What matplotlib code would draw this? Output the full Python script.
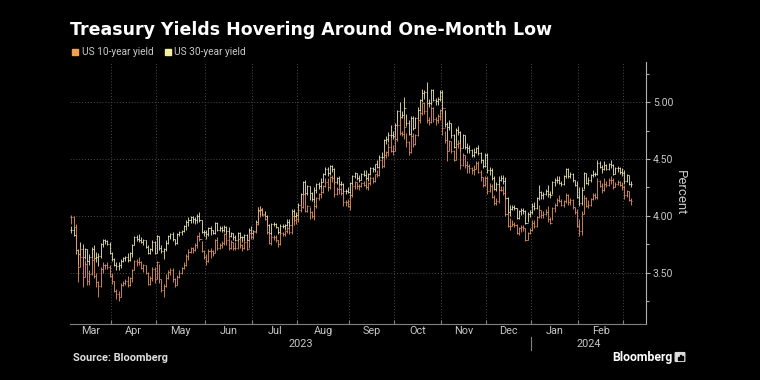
import numpy as np
import pandas as pd
from matplotlib import pyplot as plt
from matplotlib.patches import Rectangle, FancyBboxPatch

### trading days shown (US bond market calendar)
start_day = '2023-03-08'
end_day = '2024-03-06'
holidays = ['2023-05-29', '2023-06-19', '2023-07-04', '2023-09-04', '2023-10-09',
            '2023-11-10', '2023-11-23', '2023-12-25', '2024-01-01', '2024-01-15',
            '2024-02-19']

series_names = ['US 10-year yield', 'US 30-year yield']

### US 10-year yield: close, high, low (one line per month)
close10 = [3.99, 3.90, 3.70, 3.55, 3.64, 3.46, 3.58, 3.43, 3.49, 3.61, 3.47, 3.42, 3.38, 3.53, 3.57, 3.57, 3.55, 3.47,
           3.43, 3.34, 3.31, 3.29, 3.39, 3.41, 3.43, 3.39, 3.45, 3.52, 3.60, 3.59, 3.59, 3.54, 3.57, 3.50, 3.40, 3.45, 3.53, 3.44,
           3.59, 3.44, 3.35, 3.38, 3.45, 3.51, 3.52, 3.44, 3.39, 3.46, 3.50, 3.54, 3.57, 3.65, 3.68, 3.72, 3.70, 3.74, 3.82, 3.80, 3.69, 3.64,
           3.60, 3.69, 3.69, 3.67, 3.79, 3.72, 3.74, 3.76, 3.84, 3.79, 3.72, 3.77, 3.72, 3.72, 3.80, 3.74, 3.72, 3.77, 3.71, 3.85, 3.81,
           3.86, 3.93, 4.04, 4.06, 4.01, 3.97, 3.86, 3.76, 3.81, 3.81, 3.79, 3.75, 3.85, 3.84, 3.87, 3.89, 3.86, 4.00, 3.96, 3.97,
           4.05, 4.08, 4.19, 4.04, 4.09, 4.03, 4.00, 4.09, 4.16, 4.19, 4.21, 4.26, 4.30, 4.25, 4.34, 4.33, 4.19, 4.24, 4.24, 4.20, 4.12, 4.12, 4.09,
           4.18, 4.26, 4.30, 4.26, 4.26, 4.29, 4.27, 4.25, 4.29, 4.33, 4.31, 4.37, 4.36, 4.49, 4.44, 4.54, 4.56, 4.61, 4.57, 4.57,
           4.68, 4.80, 4.73, 4.72, 4.78, 4.65, 4.56, 4.70, 4.63, 4.71, 4.84, 4.91, 4.99, 4.92, 4.84, 4.83, 4.95, 4.85, 4.84, 4.88, 4.93,
           4.77, 4.67, 4.57, 4.66, 4.57, 4.49, 4.63, 4.64, 4.45, 4.54, 4.45, 4.44, 4.42, 4.40, 4.41, 4.47, 4.39, 4.34, 4.27, 4.33,
           4.22, 4.26, 4.17, 4.11, 4.13, 4.23, 4.23, 4.20, 4.02, 3.91, 3.91, 3.93, 3.92, 3.85, 3.89, 3.90, 3.89, 3.79, 3.85, 3.88,
           3.94, 3.91, 3.99, 4.05, 4.01, 4.02, 4.03, 3.97, 3.94, 4.07, 4.10, 4.14, 4.13, 4.10, 4.13, 4.18, 4.12, 4.14, 4.08, 4.03, 3.91,
           3.87, 4.02, 4.16, 4.09, 4.10, 4.15, 4.18, 4.17, 4.31, 4.26, 4.23, 4.28, 4.27, 4.32, 4.32, 4.25, 4.28, 4.30, 4.27, 4.25,
           4.18, 4.22, 4.14, 4.13]
high10 = [4.01, 4.00, 3.93, 3.67, 3.73, 3.67, 3.61, 3.59, 3.52, 3.64, 3.64, 3.50, 3.43, 3.55, 3.59, 3.58, 3.59, 3.57,
          3.50, 3.43, 3.36, 3.34, 3.41, 3.43, 3.44, 3.47, 3.46, 3.53, 3.61, 3.62, 3.64, 3.60, 3.58, 3.57, 3.51, 3.47, 3.55, 3.55,
          3.60, 3.58, 3.44, 3.40, 3.49, 3.52, 3.54, 3.54, 3.45, 3.48, 3.52, 3.55, 3.59, 3.66, 3.71, 3.73, 3.73, 3.76, 3.83, 3.86, 3.78, 3.70,
          3.66, 3.71, 3.72, 3.70, 3.80, 3.81, 3.76, 3.78, 3.85, 3.84, 3.84, 3.79, 3.77, 3.77, 3.81, 3.80, 3.75, 3.78, 3.78, 3.86, 3.88,
          3.87, 3.95, 4.08, 4.09, 4.07, 4.02, 3.97, 3.87, 3.83, 3.83, 3.83, 3.79, 3.86, 3.86, 3.87, 3.91, 3.91, 4.02, 4.02, 3.98,
          4.06, 4.12, 4.20, 4.20, 4.10, 4.08, 4.04, 4.11, 4.17, 4.20, 4.24, 4.27, 4.33, 4.33, 4.35, 4.36, 4.33, 4.25, 4.28, 4.25, 4.21, 4.14, 4.15,
          4.20, 4.27, 4.31, 4.30, 4.28, 4.30, 4.31, 4.32, 4.30, 4.35, 4.34, 4.37, 4.40, 4.50, 4.50, 4.56, 4.57, 4.64, 4.69, 4.62,
          4.70, 4.81, 4.88, 4.75, 4.89, 4.73, 4.66, 4.72, 4.73, 4.72, 4.86, 4.92, 4.99, 5.00, 5.00, 4.87, 4.97, 4.96, 4.87, 4.90, 4.94,
          4.93, 4.75, 4.68, 4.67, 4.66, 4.58, 4.64, 4.67, 4.64, 4.55, 4.54, 4.48, 4.46, 4.43, 4.45, 4.48, 4.48, 4.40, 4.34, 4.35,
          4.35, 4.29, 4.28, 4.18, 4.16, 4.25, 4.26, 4.26, 4.22, 4.03, 3.98, 3.96, 3.95, 3.93, 3.90, 3.92, 3.92, 3.89, 3.86, 3.89,
          3.96, 3.96, 4.00, 4.10, 4.05, 4.04, 4.06, 4.09, 3.99, 4.08, 4.11, 4.16, 4.18, 4.15, 4.14, 4.20, 4.19, 4.16, 4.15, 4.08, 4.06,
          3.97, 4.04, 4.18, 4.17, 4.14, 4.16, 4.20, 4.20, 4.33, 4.32, 4.29, 4.33, 4.31, 4.33, 4.35, 4.33, 4.30, 4.32, 4.31, 4.30,
          4.27, 4.23, 4.22, 4.16]
low10 = [3.93, 3.89, 3.68, 3.42, 3.55, 3.37, 3.46, 3.39, 3.39, 3.48, 3.45, 3.37, 3.29, 3.37, 3.50, 3.53, 3.53, 3.46,
         3.40, 3.33, 3.27, 3.25, 3.29, 3.38, 3.39, 3.37, 3.38, 3.42, 3.52, 3.56, 3.57, 3.53, 3.51, 3.49, 3.39, 3.39, 3.43, 3.41,
         3.44, 3.41, 3.33, 3.29, 3.37, 3.44, 3.48, 3.42, 3.37, 3.39, 3.45, 3.49, 3.53, 3.56, 3.61, 3.67, 3.67, 3.69, 3.72, 3.78, 3.68, 3.62,
         3.57, 3.59, 3.63, 3.65, 3.67, 3.70, 3.71, 3.72, 3.74, 3.74, 3.70, 3.71, 3.70, 3.70, 3.71, 3.72, 3.69, 3.71, 3.70, 3.72, 3.80,
         3.80, 3.85, 3.92, 3.99, 4.00, 3.96, 3.84, 3.75, 3.74, 3.79, 3.77, 3.73, 3.74, 3.82, 3.82, 3.85, 3.84, 3.84, 3.92, 3.93,
         3.95, 4.03, 4.07, 4.03, 4.03, 3.97, 3.98, 3.96, 4.07, 4.14, 4.16, 4.20, 4.25, 4.22, 4.24, 4.30, 4.17, 4.18, 4.19, 4.18, 4.09, 4.09, 4.08,
         4.05, 4.17, 4.24, 4.24, 4.23, 4.25, 4.26, 4.24, 4.23, 4.27, 4.29, 4.30, 4.34, 4.35, 4.42, 4.43, 4.51, 4.53, 4.56, 4.54,
         4.57, 4.66, 4.71, 4.70, 4.68, 4.61, 4.54, 4.55, 4.61, 4.62, 4.70, 4.82, 4.89, 4.90, 4.82, 4.80, 4.82, 4.83, 4.80, 4.82, 4.84,
         4.71, 4.64, 4.48, 4.57, 4.55, 4.48, 4.49, 4.60, 4.41, 4.44, 4.42, 4.38, 4.38, 4.37, 4.36, 4.41, 4.38, 4.31, 4.25, 4.26,
         4.19, 4.21, 4.16, 4.10, 4.10, 4.11, 4.22, 4.18, 4.00, 3.90, 3.88, 3.91, 3.90, 3.84, 3.83, 3.86, 3.87, 3.78, 3.79, 3.84,
         3.87, 3.89, 3.90, 3.98, 3.98, 3.98, 4.01, 3.95, 3.93, 3.96, 4.03, 4.09, 4.12, 4.09, 4.08, 4.11, 4.10, 4.10, 4.06, 4.02, 3.90,
         3.82, 3.83, 4.02, 4.08, 4.07, 4.09, 4.14, 4.15, 4.15, 4.25, 4.20, 4.22, 4.25, 4.26, 4.28, 4.24, 4.25, 4.27, 4.26, 4.23,
         4.15, 4.17, 4.13, 4.10]

### US 30-year yield: close, high, low
close30 = [3.88, 3.83, 3.70, 3.66, 3.71, 3.64, 3.71, 3.60, 3.64, 3.71, 3.63, 3.64, 3.65, 3.75, 3.79, 3.78, 3.75, 3.67,
           3.62, 3.57, 3.56, 3.57, 3.60, 3.63, 3.64, 3.61, 3.67, 3.74, 3.81, 3.80, 3.79, 3.77, 3.79, 3.73, 3.67, 3.71, 3.77, 3.67,
           3.82, 3.72, 3.69, 3.71, 3.76, 3.82, 3.84, 3.80, 3.76, 3.84, 3.86, 3.87, 3.91, 3.95, 3.96, 3.99, 3.97, 3.96, 4.00, 3.96, 3.86, 3.86,
           3.84, 3.89, 3.88, 3.85, 3.94, 3.88, 3.89, 3.88, 3.90, 3.87, 3.82, 3.85, 3.81, 3.79, 3.85, 3.81, 3.81, 3.83, 3.79, 3.88, 3.85,
           3.87, 3.95, 4.05, 4.05, 4.02, 4.00, 3.92, 3.85, 3.93, 3.93, 3.90, 3.86, 3.91, 3.91, 3.92, 3.95, 3.92, 4.04, 4.00, 4.01,
           4.10, 4.19, 4.30, 4.20, 4.26, 4.20, 4.15, 4.23, 4.28, 4.26, 4.30, 4.37, 4.41, 4.38, 4.44, 4.41, 4.30, 4.33, 4.28, 4.28, 4.22, 4.22, 4.21,
           4.29, 4.35, 4.38, 4.33, 4.32, 4.37, 4.36, 4.33, 4.37, 4.42, 4.41, 4.46, 4.43, 4.52, 4.52, 4.67, 4.68, 4.71, 4.71, 4.70,
           4.80, 4.92, 4.87, 4.89, 4.95, 4.82, 4.72, 4.86, 4.77, 4.86, 4.93, 5.02, 5.08, 5.09, 4.99, 4.99, 5.11, 5.02, 5.01, 5.03, 5.09,
           4.95, 4.81, 4.78, 4.82, 4.71, 4.61, 4.76, 4.74, 4.60, 4.71, 4.61, 4.60, 4.58, 4.54, 4.56, 4.60, 4.55, 4.49, 4.44, 4.54,
           4.40, 4.40, 4.33, 4.24, 4.28, 4.32, 4.33, 4.31, 4.16, 4.03, 4.06, 4.08, 4.07, 3.98, 4.04, 4.05, 4.04, 3.94, 4.02, 4.03,
           4.09, 4.07, 4.16, 4.21, 4.18, 4.19, 4.22, 4.19, 4.18, 4.30, 4.32, 4.32, 4.29, 4.28, 4.35, 4.41, 4.35, 4.37, 4.32, 4.27, 4.17,
           4.11, 4.23, 4.38, 4.29, 4.32, 4.36, 4.37, 4.37, 4.47, 4.43, 4.41, 4.45, 4.41, 4.46, 4.45, 4.37, 4.42, 4.42, 4.39, 4.38,
           4.31, 4.36, 4.28, 4.28]
high30 = [3.91, 3.90, 3.84, 3.71, 3.77, 3.75, 3.72, 3.71, 3.66, 3.73, 3.74, 3.68, 3.67, 3.76, 3.80, 3.80, 3.79, 3.77,
          3.68, 3.63, 3.59, 3.59, 3.62, 3.64, 3.65, 3.67, 3.68, 3.75, 3.82, 3.83, 3.84, 3.81, 3.80, 3.79, 3.74, 3.72, 3.79, 3.78,
          3.83, 3.82, 3.74, 3.72, 3.79, 3.83, 3.85, 3.86, 3.80, 3.85, 3.87, 3.88, 3.92, 3.96, 3.99, 4.00, 4.00, 3.99, 4.02, 4.03, 3.96, 3.88,
          3.88, 3.90, 3.91, 3.88, 3.95, 3.95, 3.91, 3.91, 3.92, 3.91, 3.90, 3.86, 3.85, 3.83, 3.86, 3.86, 3.82, 3.84, 3.84, 3.89, 3.91,
          3.88, 3.96, 4.08, 4.09, 4.07, 4.04, 4.01, 3.93, 3.94, 3.95, 3.94, 3.90, 3.93, 3.93, 3.93, 3.97, 3.97, 4.06, 4.06, 4.03,
          4.11, 4.20, 4.31, 4.32, 4.27, 4.26, 4.21, 4.25, 4.29, 4.30, 4.33, 4.38, 4.43, 4.43, 4.45, 4.45, 4.42, 4.34, 4.35, 4.31, 4.29, 4.24, 4.25,
          4.30, 4.36, 4.39, 4.38, 4.36, 4.38, 4.40, 4.40, 4.38, 4.43, 4.43, 4.46, 4.49, 4.54, 4.56, 4.68, 4.70, 4.74, 4.80, 4.75,
          4.82, 4.93, 5.00, 4.92, 5.05, 4.90, 4.84, 4.88, 4.88, 4.87, 4.96, 5.03, 5.12, 5.11, 5.18, 5.03, 5.12, 5.12, 5.04, 5.05, 5.11,
          5.11, 4.93, 4.83, 4.84, 4.82, 4.72, 4.77, 4.79, 4.75, 4.72, 4.71, 4.64, 4.62, 4.59, 4.60, 4.61, 4.62, 4.56, 4.50, 4.55,
          4.55, 4.43, 4.42, 4.35, 4.30, 4.35, 4.36, 4.36, 4.34, 4.17, 4.10, 4.10, 4.10, 4.07, 4.05, 4.07, 4.07, 4.05, 4.03, 4.05,
          4.11, 4.12, 4.17, 4.27, 4.22, 4.21, 4.24, 4.27, 4.22, 4.31, 4.33, 4.35, 4.35, 4.31, 4.36, 4.42, 4.42, 4.39, 4.38, 4.32, 4.31,
          4.25, 4.25, 4.39, 4.38, 4.34, 4.37, 4.40, 4.39, 4.49, 4.48, 4.45, 4.48, 4.46, 4.47, 4.49, 4.46, 4.43, 4.44, 4.43, 4.42,
          4.40, 4.37, 4.36, 4.31]
low30 = [3.85, 3.82, 3.66, 3.57, 3.65, 3.56, 3.62, 3.59, 3.57, 3.63, 3.62, 3.59, 3.56, 3.63, 3.73, 3.75, 3.74, 3.66,
         3.60, 3.56, 3.52, 3.52, 3.54, 3.59, 3.60, 3.59, 3.60, 3.64, 3.74, 3.78, 3.77, 3.76, 3.74, 3.72, 3.66, 3.66, 3.69, 3.66,
         3.67, 3.70, 3.67, 3.62, 3.69, 3.75, 3.80, 3.78, 3.74, 3.75, 3.82, 3.83, 3.86, 3.88, 3.91, 3.94, 3.94, 3.93, 3.94, 3.95, 3.85, 3.82,
         3.80, 3.82, 3.83, 3.84, 3.84, 3.87, 3.87, 3.86, 3.86, 3.84, 3.81, 3.81, 3.79, 3.78, 3.78, 3.80, 3.77, 3.78, 3.78, 3.79, 3.84,
         3.83, 3.87, 3.94, 4.01, 4.01, 3.99, 3.91, 3.84, 3.83, 3.91, 3.89, 3.84, 3.84, 3.89, 3.88, 3.91, 3.90, 3.91, 3.97, 3.98,
         4.00, 4.09, 4.18, 4.19, 4.18, 4.14, 4.13, 4.11, 4.20, 4.24, 4.24, 4.30, 4.36, 4.35, 4.36, 4.39, 4.28, 4.28, 4.26, 4.26, 4.19, 4.19, 4.20,
         4.16, 4.27, 4.33, 4.32, 4.30, 4.32, 4.35, 4.32, 4.31, 4.36, 4.39, 4.39, 4.42, 4.42, 4.50, 4.52, 4.63, 4.65, 4.69, 4.68,
         4.70, 4.79, 4.85, 4.86, 4.85, 4.79, 4.71, 4.71, 4.76, 4.77, 4.85, 4.92, 5.00, 5.03, 4.98, 4.96, 4.98, 5.01, 4.98, 4.98, 5.01,
         4.91, 4.78, 4.66, 4.76, 4.69, 4.60, 4.60, 4.71, 4.57, 4.60, 4.59, 4.55, 4.55, 4.52, 4.52, 4.55, 4.54, 4.47, 4.42, 4.43,
         4.38, 4.36, 4.32, 4.23, 4.22, 4.23, 4.31, 4.28, 4.15, 4.02, 4.00, 4.05, 4.05, 3.97, 3.97, 4.01, 4.02, 3.93, 3.95, 3.99,
         4.02, 4.05, 4.06, 4.14, 4.15, 4.15, 4.18, 4.17, 4.16, 4.19, 4.26, 4.29, 4.28, 4.26, 4.27, 4.33, 4.33, 4.33, 4.30, 4.26, 4.16,
         4.09, 4.10, 4.24, 4.28, 4.27, 4.30, 4.34, 4.35, 4.36, 4.42, 4.38, 4.40, 4.40, 4.40, 4.42, 4.36, 4.37, 4.39, 4.37, 4.35,
         4.28, 4.30, 4.27, 4.25]

month_labels = ['Mar', 'Apr', 'May', 'Jun', 'Jul', 'Aug', 'Sep', 'Oct', 'Nov', 'Dec', 'Jan', 'Feb']
year_labels = ['2023', '2024']
y_ticks = [3.50, 4.00, 4.50, 5.00]

col10 = '#e6965e'
col30 = '#efe9b4'
grid_col = '#4a4a4a'
txt_col = '#c8c8c8'

days = pd.bdate_range(start_day, end_day, freq='C', holidays=holidays)
n = len(days)
x = np.arange(n)

fig = plt.figure(figsize=(7.6, 3.8), dpi=100)
fig.patch.set_facecolor('black')
ax = fig.add_axes([70/760, 56/380, 576/760, 262/380])
ax.set_facecolor('black')

xmin, xmax = -0.6, n + 5.6
ax.set_xlim(xmin, xmax)
ax.set_ylim(3.048, 5.355)

# month boundaries = first trading day of each month (bounds[k] starts month_labels[k+1])
first_idx = [i for i in range(1, n) if days[i].month != days[i-1].month]
bounds = [i - 0.5 for i in first_idx]

for b in bounds:
    ax.axvline(b, color=grid_col, lw=0.7, ls=(0, (1, 2)), zorder=0)
for yt in y_ticks:
    ax.axhline(yt, color=grid_col, lw=0.7, ls=(0, (1, 2)), zorder=0)


def ohlc(close, high, low, col):
    close = np.asarray(close)
    opn = np.r_[close[0], close[:-1]]
    ax.vlines(x, low, high, color=col, lw=0.6, zorder=2)
    ax.hlines(opn, x - 0.45, x, color=col, lw=0.6, zorder=2)
    ax.hlines(close, x, x + 0.45, color=col, lw=0.6, zorder=2)


ohlc(close30, high30, low30, col30)
ohlc(close10, high10, low10, col10)

# axes cosmetics
for s in ['left', 'top']:
    ax.spines[s].set_visible(False)
ax.spines['right'].set_color('#b0b0b0')
ax.spines['bottom'].set_color('#808080')
ax.spines['right'].set_linewidth(0.8)
ax.spines['bottom'].set_linewidth(0.8)

ax.yaxis.tick_right()
ax.set_yticks(y_ticks)
ax.set_yticklabels(['%.2f' % v for v in y_ticks])
ax.set_yticks([3.25, 3.75, 4.25, 4.75, 5.25], minor=True)
ax.tick_params(axis='y', which='major', colors='#b0b0b0', labelcolor=txt_col, length=3,
               width=0.8, pad=2, labelsize=7.5, labelfontfamily='Roboto')
ax.tick_params(axis='y', which='minor', colors='#b0b0b0', length=2.5, width=0.8)
ax.set_xticks(bounds)
ax.set_xticklabels([])
ax.tick_params(axis='x', colors='#808080', length=3, direction='in', width=0.8)

ax.yaxis.set_label_position('right')
ax.set_ylabel('Percent', rotation=270, color=txt_col, fontsize=9.5, family='Roboto', labelpad=10)

# month labels centred between boundaries
edges = [xmin] + bounds
for k, lab in enumerate(month_labels):
    xc = 0.5 * (edges[k] + edges[k+1])
    ax.text(xc, -0.027, lab, transform=ax.get_xaxis_transform(), ha='center', va='center',
            color=txt_col, fontsize=7.8, family='Roboto')

jan = edges[month_labels.index('Jan')]
ax.text(0.5 * (xmin + jan), -0.077, year_labels[0], transform=ax.get_xaxis_transform(),
        ha='center', va='center', color=txt_col, fontsize=7.8, family='Roboto')
ax.text(0.5 * (jan + xmax), -0.077, year_labels[1], transform=ax.get_xaxis_transform(),
        ha='center', va='center', color=txt_col, fontsize=7.8, family='Roboto')
ax.plot([jan, jan], [-0.05, -0.1], transform=ax.get_xaxis_transform(), color='#808080',
        lw=0.8, clip_on=False)

# title and legend
fig.text(70/760, 1 - 35/380, 'Treasury Yields Hovering Around One-Month Low', color='white',
         fontsize=12.5, fontweight='bold', family='DejaVu Sans', va='baseline')
fig.patches.append(Rectangle((72/760, 1 - 55/380), 6/760, 6/380, transform=fig.transFigure,
                             color='#f2a04c'))
fig.text(82/760, 1 - 52/380, series_names[0], color=txt_col, fontsize=7.3, family='Roboto', va='center')
fig.patches.append(Rectangle((165/760, 1 - 55/380), 6/760, 6/380, transform=fig.transFigure,
                             color='#f6efa0'))
fig.text(174/760, 1 - 52/380, series_names[1], color=txt_col, fontsize=7.3, family='Roboto', va='center')

# footer
fig.text(73/760, 1 - 358/380, 'Source: Bloomberg', color='#e0e0e0', fontsize=7.9,
         fontweight='bold', family='Roboto', va='center')
fig.text(612/760, 1 - 357/380, 'Bloomberg', color='white', fontsize=8.8,
         fontweight='bold', family='Roboto', va='center')
fig.patches.append(FancyBboxPatch((676/760, 1 - 361/380), 8/760, 8/380, transform=fig.transFigure,
                                  boxstyle='round,pad=0.001', color='#dddddd'))
for k, hgt in enumerate([3, 5, 4]):
    fig.patches.append(Rectangle(((677.5 + 2*k)/760, 1 - 360/380), 1/760, hgt/380,
                                 transform=fig.transFigure, color='black'))

plt.savefig('out.png', dpi=100, facecolor='black')
